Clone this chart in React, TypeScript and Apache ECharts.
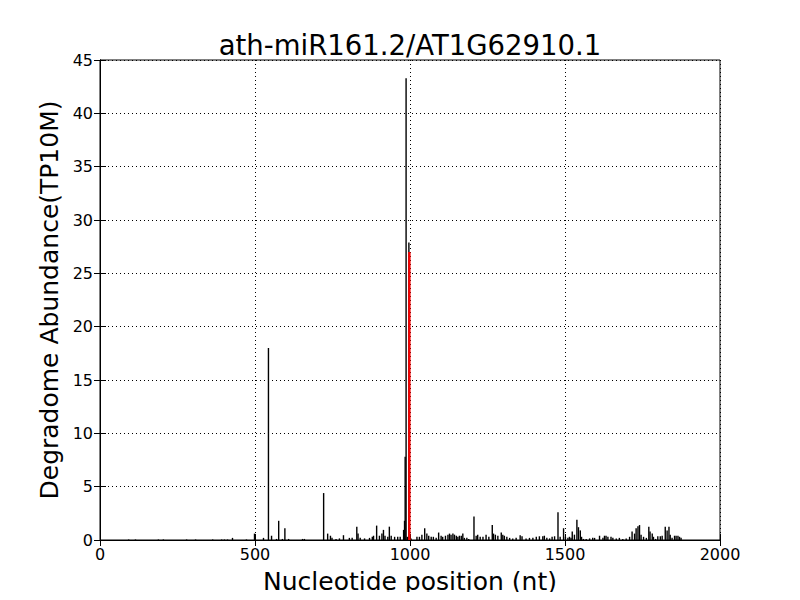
import React, { useEffect, useRef } from "react";
import * as echarts from "echarts";

const TITLE = "ath-miR161.2/AT1G62910.1";
const X_NAME = "Nucleotide position (nt)";
const Y_NAME = "Degradome Abundance(TP10M)";

// Degradome read positions (nt) and abundances (TP10M)
const positions: number[] = [
  94, 116, 190, 206, 281, 310, 365, 394, 403, 413, 429, 474, 500, 529, 545, 555, 571, 578, 590, 598, 610, 655, 661,
  723, 736, 745, 750, 763, 774, 787, 806, 815, 830, 834, 841, 855, 871, 880, 884, 894, 903, 911, 916, 921, 930, 935,
  941, 952, 962, 970, 981, 984, 986, 989, 993,
  1000, 1005, 1024, 1032, 1040, 1049, 1056, 1062, 1070, 1077, 1086, 1094, 1102, 1107, 1116, 1124, 1129, 1134, 1140,
  1145, 1151, 1156, 1161, 1167, 1172, 1177, 1185, 1191, 1208, 1215, 1220, 1228, 1237, 1247, 1256,
  1267, 1271, 1277, 1285, 1296, 1301, 1306, 1314, 1323, 1333, 1344, 1357, 1363, 1376, 1387, 1398, 1409, 1419, 1430,
  1435, 1443, 1452, 1460, 1468, 1479, 1486, 1497, 1503, 1511,
  1516, 1521, 1525, 1532, 1540, 1545, 1551, 1555, 1561, 1570, 1581, 1591, 1597, 1613, 1624, 1629, 1634, 1640, 1650,
  1656, 1667, 1677, 1688, 1699, 1710, 1718, 1726, 1731, 1737, 1742, 1747, 1755, 1764, 1772, 1776, 1783, 1787, 1794,
  1801, 1809, 1815, 1825, 1831, 1837, 1841, 1847, 1855, 1860, 1866, 1871, 1876,
];
const abundances: number[] = [
  0.05, 0.05, 0.05, 0.05, 0.05, 0.05, 0.05, 0.05, 0.05, 0.05, 0.2, 0.05, 0.6, 0.2, 18.0, 0.4, 0.1, 1.8, 0.1, 1.1, 0.1, 0.1, 0.1,
  4.4, 0.6, 0.4, 0.2, 0.1, 0.15, 0.45, 0.2, 0.2, 1.25, 0.6, 0.2, 0.15, 0.2, 0.3, 0.4, 1.35, 0.4, 0.6, 0.95, 0.4, 0.3, 1.25,
  0.4, 0.3, 0.3, 0.3, 0.95, 1.8, 7.8, 43.3, 0.3,
  0.3, 0.15, 0.3, 0.3, 0.5, 1.1, 0.6, 0.4, 0.3, 0.3, 0.2, 0.7, 0.4, 0.3, 0.4, 0.5, 0.6, 0.5, 0.6,
  0.5, 0.4, 0.3, 0.4, 0.4, 0.6, 0.2, 0.2, 0.1, 2.2, 0.4, 0.5, 0.3, 0.3, 0.5, 0.3,
  1.4, 0.6, 0.5, 0.4, 0.7, 0.5, 0.4, 0.3, 0.2, 0.15, 0.2, 0.45, 0.35, 0.15, 0.2, 0.2, 0.3, 0.35, 0.35,
  0.4, 0.2, 0.15, 0.3, 0.35, 2.6, 0.3, 1.1, 0.3, 0.2,
  0.3, 0.2, 0.8, 0.5, 1.9, 1.2, 0.9, 0.3, 0.1, 0.1, 0.15, 0.2, 0.2, 0.4, 0.2, 0.4, 0.4, 0.3, 0.3,
  0.2, 0.15, 0.2, 0.1, 0.15, 0.3, 0.8, 0.6, 1.1, 1.3, 1.4, 0.5, 0.3, 0.2, 1.25, 0.8, 0.6, 0.3, 0.1,
  0.35, 0.35, 0.4, 1.25, 0.9, 1.25, 0.5, 0.2, 0.4, 0.4, 0.4, 0.3, 0.2,
];

// Cleavage site
const sitePos: number[] = [998];
const siteBlack: number[] = [27.9];
const siteRed: number[] = [27.0];

const xTicks = { min: 0, max: 2000, interval: 500 };
const yTicks = { min: 0, max: 45, interval: 5 };

const FONT = "DejaVu Sans";

export default function App() {
  const ref = useRef<HTMLDivElement>(null);
  useEffect(() => {
    if (!ref.current) return;
    const chart = echarts.init(ref.current, undefined, { renderer: "svg" });
    const mainData = positions.map((p, i) => [p, abundances[i]]);
    const blackSite = sitePos.map((p, i) => [p, siteBlack[i]]);
    const redSite = sitePos.map((p, i) => [p, siteRed[i]]);
    const tickStyle = { show: true, inside: true, length: 6, lineStyle: { color: "#000", width: 1 } };
    chart.setOption({
      animation: false,
      backgroundColor: "#fff",
      graphic: [
        {
          type: "text",
          x: 410,
          y: 45,
          style: {
            text: TITLE,
            fontFamily: FONT,
            fontSize: 27.5,
            fill: "#000",
            textAlign: "center",
            textVerticalAlign: "middle",
          },
        },
      ],
      grid: { left: 100, right: 80, top: 60, bottom: 60, show: true, borderColor: "#000", borderWidth: 1 },
      xAxis: [
        {
          type: "value",
          min: xTicks.min,
          max: xTicks.max,
          interval: xTicks.interval,
          name: X_NAME,
          nameLocation: "middle",
          nameGap: 29,
          nameTextStyle: { fontFamily: FONT, fontSize: 25, color: "#000" },
          axisLine: { show: true, lineStyle: { color: "#000" } },
          axisTick: tickStyle,
          axisLabel: { fontFamily: FONT, fontSize: 16, color: "#000", margin: 6, formatter: (v: number) => String(v) },
          splitLine: { show: true, lineStyle: { color: "#000", type: [1, 3], width: 1 } },
        },
        {
          type: "value",
          position: "top",
          min: xTicks.min,
          max: xTicks.max,
          interval: xTicks.interval,
          axisLine: { show: true, lineStyle: { color: "#000" } },
          axisTick: tickStyle,
          axisLabel: { show: false },
          splitLine: { show: false },
        },
      ],
      yAxis: [
        {
          type: "value",
          min: yTicks.min,
          max: yTicks.max,
          interval: yTicks.interval,
          name: Y_NAME,
          nameLocation: "middle",
          nameGap: 35,
          nameTextStyle: { fontFamily: FONT, fontSize: 25, color: "#000" },
          axisLine: { show: true, lineStyle: { color: "#000" } },
          axisTick: tickStyle,
          axisLabel: { fontFamily: FONT, fontSize: 16, color: "#000", margin: 7 },
          splitLine: { show: true, lineStyle: { color: "#000", type: [1, 3], width: 1 } },
        },
        {
          type: "value",
          position: "right",
          min: yTicks.min,
          max: yTicks.max,
          interval: yTicks.interval,
          axisLine: { show: true, lineStyle: { color: "#000" } },
          axisTick: tickStyle,
          axisLabel: { show: false },
          splitLine: { show: false },
        },
      ],
      series: [
        {
          type: "bar",
          data: mainData,
          barWidth: 1.4,
          barGap: "-100%",
          itemStyle: { color: "#000" },
          silent: true,
        },
        {
          type: "bar",
          data: blackSite,
          barWidth: 1.4,
          barGap: "-100%",
          itemStyle: { color: "#000" },
          silent: true,
        },
        {
          type: "bar",
          data: redSite,
          barWidth: 2.4,
          barGap: "-100%",
          itemStyle: { color: "#ff0000" },
          silent: true,
          z: 3,
        },
      ],
    });
    return () => chart.dispose();
  }, []);
  return <div ref={ref} style={{ width: 800, height: 600, margin: -8 }} />;
}
